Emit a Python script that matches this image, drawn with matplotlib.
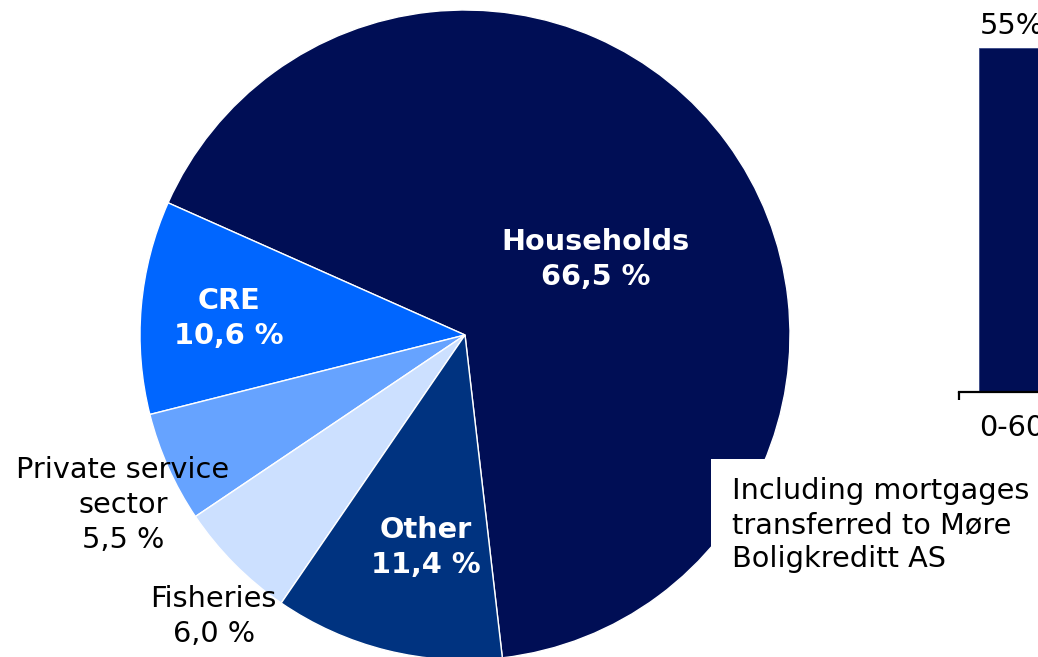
import matplotlib
matplotlib.use("Agg")
import matplotlib.pyplot as plt
from matplotlib.patches import Rectangle
import numpy as np

# Loan portfolio by sector (share of total, %)
sectors = ["Households", "CRE", "Private service\nsector", "Fisheries", "Other"]
shares = [66.5, 10.6, 5.5, 6.0, 11.4]
share_labels = ["66,5 %", "10,6 %", "5,5 %", "6,0 %", "11,4 %"]
sector_colors = ["#000E55", "#0066FF", "#66A3FF", "#CCE0FF", "#003380"]

# LTV distribution (first bucket)
ltv_buckets = ["0-60"]
ltv_values = [55]
ltv_color = "#000E55"

note_text = "Including mortgages\ntransferred to Møre\nBoligkreditt AS"

W, H = 1038, 657
fig = plt.figure(figsize=(W / 100, H / 100), dpi=100)
plt.rcParams["font.family"] = ["DejaVu Sans"]
FS = 20.7


def fx(px):
    return px / W


def fy(py):
    return 1 - py / H


# --- pie ---
cx, cy, r = 465, 335, 325
ax = fig.add_axes([fx(cx - r), fy(cy + r), 2 * r / W, 2 * r / H])
wedges, _ = ax.pie(shares, colors=sector_colors, startangle=-83.4,
                   counterclock=True, radius=1,
                   wedgeprops=dict(edgecolor="white", linewidth=1.0))
ax.set_xlim(-1, 1)
ax.set_ylim(-1, 1)
ax.set_aspect("auto")
ax.axis("off")

# label placement: (angle in degrees, radius fraction)
label_pos = [(30.0, 0.465), (175.9, 0.728), (206.4, 1.175),
             (228.3, 1.162), (259.6, 0.666)]
inside = [True, True, False, False, True]
for name, lab, (ang, rr), ins in zip(sectors, share_labels, label_pos, inside):
    a = np.deg2rad(ang)
    ax.text(rr * np.cos(a), rr * np.sin(a), f"{name}\n{lab}",
            ha="center", va="center", fontsize=FS, linespacing=1.32,
            color="white" if ins else "black",
            fontweight="bold" if ins else "normal", clip_on=False)

# white note box over the pie
fig.add_artist(Rectangle((fx(711), 0), 1 - fx(711), fy(459),
                         transform=fig.transFigure, facecolor="white",
                         edgecolor="none", zorder=5))
fig.text(fx(732), fy(477), note_text, ha="left", va="top", fontsize=FS,
         linespacing=1.27, color="black", zorder=6)

# --- LTV bar chart (partially visible) ---
ax2 = fig.add_axes([fx(959), fy(392), 106 / W, 344 / H])
bars = ax2.bar(np.arange(len(ltv_values)), ltv_values, width=0.62,
               color=ltv_color, edgecolor="#2A3A80", linewidth=0.5)
ax2.set_xlim(-0.5, len(ltv_values) - 0.5)
ax2.set_ylim(0, 55)
for s in ["top", "right", "left"]:
    ax2.spines[s].set_visible(False)
ax2.spines["bottom"].set_linewidth(1.6)
ax2.set_yticks([])
ax2.set_xticks(np.arange(len(ltv_values)), ltv_buckets, fontsize=FS)
ax2.tick_params(axis="x", which="major", length=0, pad=15.8)
ax2.set_xticks([-0.5], minor=True)
ax2.tick_params(axis="x", which="minor", length=5.8, width=1.6,
                direction="out")
ax2.bar_label(bars, labels=[f"{v:g}%" for v in ltv_values], padding=5.8,
              fontsize=FS)
ax2.patch.set_visible(False)

fig.savefig("out.png", dpi=100)
